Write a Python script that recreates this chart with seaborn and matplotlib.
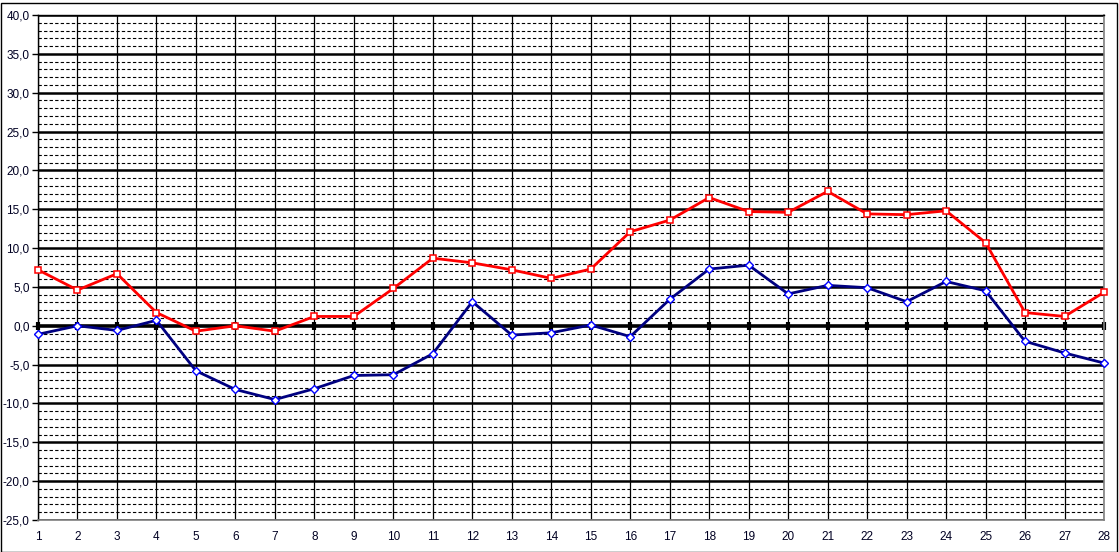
import numpy as np
import pandas as pd

import seaborn as sns
import matplotlib
matplotlib.use('Agg')
import matplotlib.pyplot as plt
from matplotlib.ticker import MultipleLocator, FuncFormatter

# values
days = list(range(1, 29))
red_vals = [7.2, 4.6, 6.7, 1.7, -0.7, 0.0, -0.7, 1.2, 1.2, 4.8,
            8.7, 8.1, 7.2, 6.1, 7.3, 12.1, 13.6, 16.5, 14.7, 14.6,
            17.3, 14.4, 14.3, 14.8, 10.7, 1.7, 1.2, 4.3]
blue_vals = [-1.1, 0.0, -0.6, 0.7, -5.8, -8.2, -9.5, -8.1, -6.4, -6.3,
             -3.6, 3.1, -1.2, -0.9, 0.1, -1.4, 3.4, 7.3, 7.8, 4.1,
             5.2, 4.9, 3.1, 5.7, 4.5, -2.0, -3.5, -4.8]
y_min, y_max = -25, 40

sns.set_style('white')
plt.rcParams['font.family'] = ['Liberation Sans', 'DejaVu Sans']

df = pd.DataFrame({'day': days, 'red': red_vals, 'blue': blue_vals})

fig = plt.figure(figsize=(11.19, 5.52), dpi=100)
ax = fig.add_axes([38/1119, 32/552, 1066/1119, 505/552])

# grid: dashed every 1, thick every 5, thicker at zero
for v in range(y_min, y_max + 1):
    if v == 0:
        ax.axhline(v, color='black', lw=2.6, zorder=1)
    elif v % 5 == 0:
        ax.axhline(v, color='black', lw=1.8, zorder=1)
    else:
        ax.axhline(v, color='black', lw=0.8, ls=(0, (3, 2)), zorder=1)
for d in days:
    ax.axvline(d, color='black', lw=0.9, zorder=1)

# tick marks of the category axis sitting on the zero line
ax.plot(df['day'], np.zeros(len(days)), ls='none', marker='|', ms=6, mew=3,
        color='black', zorder=2, clip_on=False)

sns.lineplot(data=df, x='day', y='red', color='#ff0000', lw=2,
             marker='s', ms=5, mfc='white', mec='#ff0000', mew=1.1,
             ax=ax, zorder=4, clip_on=False)
sns.lineplot(data=df, x='day', y='blue', color='#000080', lw=2,
             marker='D', ms=4.5, mfc='white', mec='#0000ff', mew=1.0,
             ax=ax, zorder=4, clip_on=False)

ax.set_xlim(1, 28)
ax.set_ylim(y_min, y_max)
ax.set_xticks(days)
ax.yaxis.set_major_locator(MultipleLocator(5))
ax.yaxis.set_major_formatter(FuncFormatter(lambda v, p: '{:.1f}'.format(v).replace('.', ',')))
ax.tick_params(axis='y', direction='out', length=4, width=1, color='black',
               labelsize=8.5, labelcolor='#000022', pad=2, left=True)
ax.tick_params(axis='x', length=0, labelsize=8.5, labelcolor='#000022', pad=8)
ax.set_xlabel('')
ax.set_ylabel('')

for side in ['left', 'top']:
    ax.spines[side].set_color('black')
    ax.spines[side].set_linewidth(1)
for side in ['right', 'bottom']:
    ax.spines[side].set_color('#808080')
    ax.spines[side].set_linewidth(1.2)

# outer frame of the picture
fig.patches.append(plt.Rectangle((0.5/1119, 0.5/552), 1116/1119, 549/552,
                                 transform=fig.transFigure, fill=False,
                                 edgecolor='black', lw=1))

plt.savefig('out.png', dpi=100, facecolor='white')
